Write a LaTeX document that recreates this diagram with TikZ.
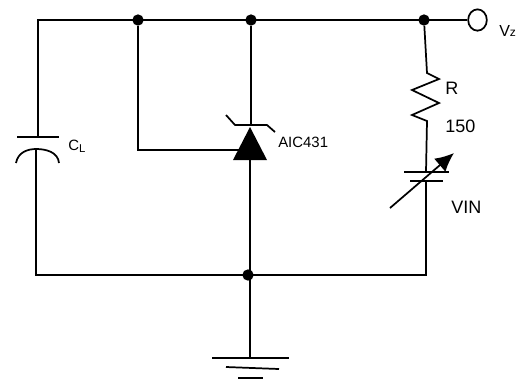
\documentclass[tikz,border=0pt]{standalone}
\usepackage{fontspec}
\setmainfont{Liberation Sans}
\usepackage{tikz}
\usetikzlibrary{arrows.meta, positioning}
\usetikzlibrary{shapes.geometric}
\tikzset{
  wire/.style={line width=1.3pt, black},
  junction/.style={circle, fill=black, inner sep=0pt, minimum size=8.5pt},
  terminal/.style={ellipse, draw=black, line width=1.3pt, fill=white, inner sep=0pt, minimum width=14pt, minimum height=16pt},
  lab/.style={inner sep=0pt, anchor=base west, font=\fontsize{13.5}{13.5}\selectfont},
  smalllab/.style={inner sep=0pt, anchor=base west, font=\fontsize{11.2}{11.2}\selectfont}
}
\begin{document}
\begin{tikzpicture}[x=0.75pt, y=-0.75pt]
\useasboundingbox (0,0) rectangle (521,380);
%
\node[junction] (j1) at (138,20) {};
\node[junction] (j2) at (251,20) {};
\node[junction] (j3) at (424,20) {};
\node[junction] (j4) at (248,275) {};
\node[terminal] (vout) at (477.5,20) {};
%
\coordinate (tl) at (38,20);
\coordinate (capa) at (38,137);
\coordinate (capb) at (36,149);
\coordinate (bl) at (36,275);
\coordinate (br) at (426,275);
\coordinate (zbar) at (251,125);
\coordinate (ztip) at (250,127);
\coordinate (zbase) at (250,160);
\coordinate (zfoot) at (250,275);
\coordinate (zgate) at (138,150);
\coordinate (zleft) at (240,150);
\coordinate (rtop) at (427,73);
\coordinate (rbot) at (427,121);
\coordinate (pa) at (426,172);
\coordinate (pb) at (426,181);
\coordinate (gnd) at (250,358);
\coordinate (arra) at (390,208);
\coordinate (arrb) at (454,153);
%
\draw[wire] (capa) -- (tl) -- (vout.west);
\draw[wire] (17,137) -- (59,137);
\draw[wire] (16,163) .. controls (18,152) and (28,149) .. (capb) .. controls (46,149) and (58,152) .. (59,163);
\draw[wire] (capb) -- (bl) -- (br) -- (pb);
\draw[wire] (j1) -- (zgate) -- (zleft);
\draw[wire] (j2) -- (zbar);
\draw[wire] (zbase) -- (zfoot);
\draw[wire] (226,115) -- (235,125) -- (267,125) -- (275,132);
\fill[black] (ztip) -- (267,160) -- (233,160) -- cycle;
\draw[wire] (j3) -- (rtop) -- (439,79) -- (412,90) -- (439,103) -- (412,115) -- (rbot) -- (pa);
\draw[wire] (404,172) -- (449,172);
\draw[wire] (410,181) -- (443,181);
\draw[wire, -{Latex[length=14pt, width=13pt]}] (arra) -- (arrb);
\draw[wire] (zfoot) -- (gnd);
\draw[wire] (212,358) -- (289,358);
\draw[wire] (226,367) -- (279,369);
\draw[wire] (238,378) -- (263,378);
%
\node[smalllab] (cl) at (68,150) {C\raisebox{-1.5pt}{\fontsize{8.5}{8.5}\selectfont L}};
\node[smalllab] (aic) at (278,147) {AIC431};
\node[lab] (r) at (445,94) {R};
\node[lab] (val) at (445,132) {150};
\node[lab] (vin) at (451,213) {VIN};
\node[smalllab, font=\fontsize{12}{12}\selectfont] (vz) at (499,36) {V\fontsize{9}{9}\selectfont z};
\end{tikzpicture}
\end{document}
